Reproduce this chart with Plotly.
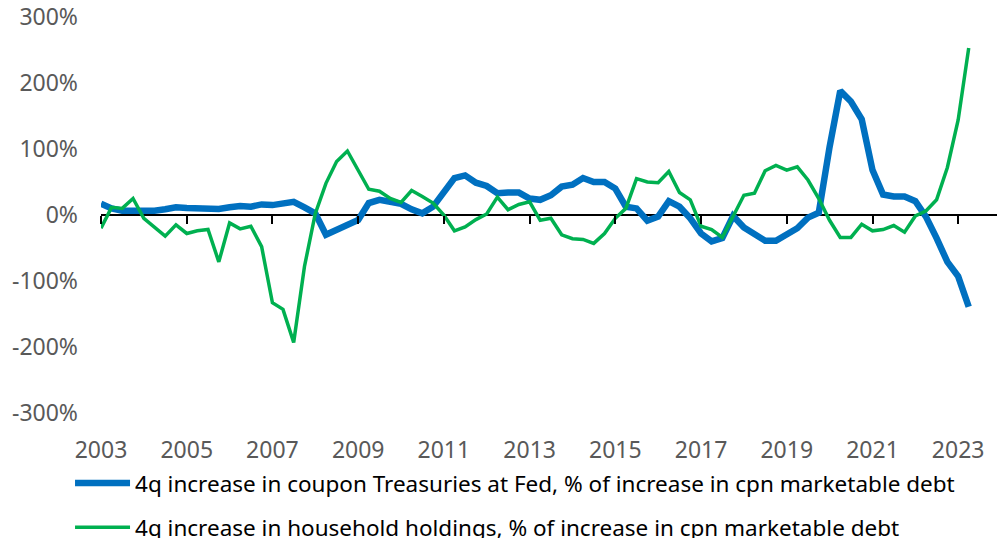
import pandas as pd
import plotly.graph_objects as go

quarters = pd.date_range("2003-01-01", periods=82, freq="QS")

fed_share = [17, 10, 6.5, 6, 6.5, 6.5, 8.6, 11.6, 10.6, 10.6,
             10.6, 9, 11.6, 13.6, 12.6, 16, 15, 17, 20, 11.6,
             2.5, -30, -22, -15, -7.6, 18, 23, 20, 17, 8.6,
             2.5, 12.6, 34, 56, 60, 49, 44, 33, 34, 34,
             25, 23, 30, 43, 46, 56, 50, 50, 40, 12.6,
             10, -8.6, -2.5, 21, 12.6, -5, -28, -40, -35, -1.5,
             -19, -29, -39, -39, -28, -20, -4, 3.5, 103, 188,
             172, 145, 68, 31, 28, 28, 21, -2.5, -35, -71,
             -93, -139]

household_share = [-20, 11.6, 10, 25, -5, -18, -32, -15, -28, -24,
                   -22, -71, -12, -21, -17, -48, -133, -143, -193, -78,
                   2, 48, 81, 97, 68, 39, 36, 25, 19, 37,
                   28, 18, 0, -24, -18, -7, 1.5, 27, 8, 16,
                   20, -8, -5, -30, -36, -37, -43, -28, -5, 10,
                   55, 50, 49, 66, 34, 23, -17, -22, -34, -2.5,
                   30, 33, 67, 75, 68, 73, 53, 25, -8, -34,
                   -34, -14, -24, -22, -16, -26, -1.5, 6, 23, 72,
                   144, 253]

year_ticks = ["2003-01-01", "2005-01-01", "2007-01-01", "2009-01-01", "2011-01-01",
              "2013-01-01", "2015-01-01", "2017-01-01", "2019-01-01", "2021-01-01",
              "2023-01-01"]
year_labels = ["2003", "2005", "2007", "2009", "2011", "2013", "2015", "2017",
               "2019", "2021", "2023"]
pct_ticks = [-300, -200, -100, 0, 100, 200, 300]
pct_labels = ["-300%", "-200%", "-100%", "0%", "100%", "200%", "300%"]

series_names = [
    "4q increase in coupon Treasuries at Fed, % of increase in cpn marketable debt",
    "4q increase in household holdings, % of increase in cpn marketable debt",
]

x_range = ["2003-01-01", "2023-11-28"]

fig = go.Figure()
fig.add_trace(go.Scatter(x=quarters, y=fed_share, mode="lines", name=series_names[0],
                         line=dict(color="#0070C0", width=6.5), legendgroup="a"))
fig.add_trace(go.Scatter(x=quarters, y=household_share, mode="lines", name=series_names[1],
                         line=dict(color="#00B050", width=3.5), legendgroup="b"))
# helper trace so the tick-mark axis at zero is drawn
fig.add_trace(go.Scatter(x=[None], y=[None], xaxis="x2", yaxis="y", showlegend=False,
                         hoverinfo="skip"))

font_family = "Noto Sans, Open Sans, sans-serif"

fig.update_layout(
    width=999, height=538,
    margin=dict(l=101, r=2, t=17, b=125, autoexpand=False),
    plot_bgcolor="white", paper_bgcolor="white",
    font=dict(family=font_family, size=23, color="#595959"),
    xaxis=dict(type="date", range=x_range, tickvals=year_ticks, ticktext=year_labels,
               showgrid=False, zeroline=False, showline=False, ticks="",
               ticklabelstandoff=21, tickfont=dict(size=23, color="#595959")),
    xaxis2=dict(type="date", range=x_range, overlaying="x", anchor="free", position=0.5,
                tickvals=year_ticks, showticklabels=False, ticks="outside", ticklen=8,
                tickwidth=2, tickcolor="black", showgrid=False, zeroline=False,
                showline=False),
    yaxis=dict(range=[-300, 300], tickvals=pct_ticks, ticktext=pct_labels,
               showgrid=False, zeroline=True, zerolinecolor="black", zerolinewidth=2,
               showline=False, ticks="", ticklabelstandoff=22,
               tickfont=dict(size=23, color="#595959")),
    showlegend=True,
    legend=dict(xref="container", yref="container", x=0.0701, y=0.1413,
                xanchor="left", yanchor="top", orientation="v",
                traceorder="grouped", tracegroupgap=12, itemwidth=55,
                font=dict(size=22.5, color="#000000", family=font_family),
                bgcolor="rgba(0,0,0,0)"),
)

fig.write_html("out.html", config={"displayModeBar": False},
               post_script="document.body.style.margin='0';")
